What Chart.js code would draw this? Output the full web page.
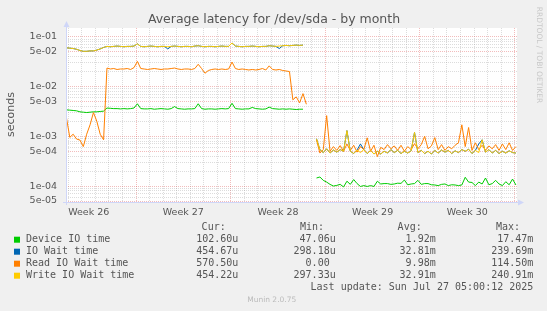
<!DOCTYPE html>
<html>
<head>
<meta charset="utf-8">
<script src="https://cdn.jsdelivr.net/npm/chart.js@4.4.0/dist/chart.umd.min.js"></script>
<style>
html, body { margin: 0; padding: 0; background: #f0f0f0; }
canvas { display: block; }
</style>
</head>
<body>
<canvas id="latency" width="547" height="311"></canvas>
<script>
// time axis in days, 0 = start of week 27
var startDay = -5.15;
var stepDay = 0.25;
var weekCenters = [-3.5, 3.5, 10.5, 17.5, 24.5];
var weekLabels = ['Week 26', 'Week 27', 'Week 28', 'Week 29', 'Week 30'];

var yLabelValues = [1e-1, 5e-2, 1e-2, 5e-3, 1e-3, 5e-4, 1e-4, 5e-5];
var yLabelTexts = ['1e-01', '5e-02', '1e-02', '5e-03', '1e-03', '5e-04', '1e-04', '5e-05'];

var deviceIO = [
    3.4e-3, 3.35e-3, 3.3e-3, 3.25e-3, 3.1e-3, 3.05e-3, 3.0e-3, 3.05e-3, 3.1e-3, 3.1e-3, 3.15e-3, 3.2e-3,
    3.7e-3, 3.65e-3, 3.6e-3, 3.6e-3, 3.55e-3, 3.6e-3, 3.55e-3, 3.6e-3, 3.7e-3, 4.5e-3, 3.6e-3, 3.55e-3,
    3.55e-3, 3.6e-3, 3.5e-3, 3.55e-3, 3.6e-3, 3.55e-3, 3.5e-3, 3.6e-3, 3.95e-3, 3.6e-3, 3.55e-3, 3.5e-3,
    3.55e-3, 3.55e-3, 3.6e-3, 4.5e-3, 3.6e-3, 3.5e-3, 3.55e-3, 3.55e-3, 3.5e-3, 3.55e-3, 3.6e-3, 3.55e-3,
    3.6e-3, 4.6e-3, 3.6e-3, 3.55e-3, 3.5e-3, 3.55e-3, 3.55e-3, 3.8e-3, 3.6e-3, 3.55e-3, 3.5e-3, 3.55e-3,
    3.85e-3, 3.6e-3, 3.55e-3, 3.5e-3, 3.55e-3, 3.5e-3, 3.55e-3, 3.5e-3, 3.45e-3, 3.5e-3, 3.5e-3,
    null, null, null,
    1.45e-4, 1.52e-4, 1.3e-4, 1.2e-4, 1.08e-4, 1.0e-4, 1.03e-4, 1.08e-4, 9.6e-5, 1.25e-4,
    1.08e-4, 1.35e-4, 1.12e-4, 9.8e-5, 1.02e-4, 9.8e-5, 1.02e-4, 9.8e-5, 1.25e-4, 1.1e-4,
    1.12e-4, 1.12e-4, 1.08e-4, 1.1e-4, 1.14e-4, 1.13e-4, 1.32e-4, 1.06e-4, 1.1e-4, 1.12e-4,
    1.3e-4, 1.08e-4, 1.12e-4, 1.12e-4, 1.06e-4, 1.05e-4, 1.02e-4, 1.08e-4, 1.1e-4, 1.02e-4,
    1.06e-4, 1.05e-4, 1.02e-4, 1.05e-4, 1.5e-4, 1.2e-4, 1.18e-4, 1.02e-4, 1.2e-4, 1.1e-4,
    1.45e-4, 1.06e-4, 1.12e-4, 1.3e-4, 1.1e-4, 1.02e-4, 1.22e-4, 1.06e-4, 1.38e-4, 1.05e-4
];

var ioWait = [
    0.060, 0.059, 0.058, 0.056, 0.053, 0.051, 0.051, 0.052, 0.052, 0.054, 0.057, 0.061,
    0.064, 0.063, 0.064, 0.065, 0.064, 0.063, 0.064, 0.064, 0.065, 0.072, 0.064, 0.063,
    0.064, 0.065, 0.064, 0.063, 0.064, 0.064, 0.057, 0.064, 0.065, 0.064, 0.063, 0.064,
    0.064, 0.063, 0.065, 0.066, 0.064, 0.063, 0.064, 0.064, 0.063, 0.064, 0.065, 0.064,
    0.064, 0.075, 0.065, 0.064, 0.063, 0.064, 0.064, 0.065, 0.064, 0.063, 0.064, 0.064,
    0.066, 0.065, 0.064, 0.058, 0.066, 0.067, 0.066, 0.067, 0.068, 0.067, 0.068,
    null, null, null,
    8.9e-4, 5.4e-4, 4.7e-4, 5.6e-4, 4.6e-4, 5.3e-4, 4.8e-4, 5.4e-4, 5.0e-4, 1.3e-3,
    5.0e-4, 4.5e-4, 5.3e-4, 7.0e-4, 5.4e-4, 4.5e-4, 5.2e-4, 4.4e-4, 5.0e-4, 4.4e-4,
    5.0e-4, 4.6e-4, 5.4e-4, 4.7e-4, 5.2e-4, 4.5e-4, 5.0e-4, 4.6e-4, 5.1e-4, 1.2e-3,
    4.7e-4, 5.2e-4, 4.5e-4, 5.0e-4, 4.4e-4, 5.2e-4, 4.6e-4, 5.3e-4, 4.8e-4, 5.2e-4,
    4.5e-4, 5.1e-4, 4.7e-4, 5.4e-4, 5.0e-4, 5.5e-4, 4.5e-4, 5.2e-4, 7.0e-4, 8.5e-4,
    4.8e-4, 5.4e-4, 4.6e-4, 5.2e-4, 4.5e-4, 5.0e-4, 4.6e-4, 5.1e-4, 4.7e-4, 4.6e-4
];

var readIOWait = [
    2.4e-3, 9.5e-4, 1.1e-3, 8.8e-4, 8.4e-4, 6.2e-4, 1.1e-3, 1.7e-3, 3.0e-3, 2.0e-3, 1.1e-3, 8.5e-4,
    2.35e-2, 2.25e-2, 2.3e-2, 2.2e-2, 2.25e-2, 2.25e-2, 2.3e-2, 2.2e-2, 2.4e-2, 3.2e-2, 2.3e-2, 2.25e-2,
    2.2e-2, 2.25e-2, 2.3e-2, 2.25e-2, 2.2e-2, 2.25e-2, 2.25e-2, 2.3e-2, 2.35e-2, 2.25e-2, 2.2e-2, 2.25e-2,
    2.25e-2, 2.2e-2, 2.3e-2, 2.8e-2, 2.3e-2, 1.85e-2, 2.1e-2, 2.2e-2, 2.25e-2, 2.2e-2, 2.25e-2, 2.2e-2,
    2.25e-2, 3.1e-2, 2.3e-2, 2.2e-2, 2.25e-2, 2.2e-2, 2.15e-2, 2.2e-2, 2.15e-2, 2.2e-2, 2.3e-2, 2.15e-2,
    2.6e-2, 2.2e-2, 2.15e-2, 2.2e-2, 2.1e-2, 2.05e-2, 2.0e-2, 5.4e-3, 6.2e-3, 4.7e-3, 7.2e-3, 4.4e-3,
    null, null,
    8.5e-4, 4.6e-4, 5.4e-4, 2.6e-3, 5.0e-4, 6.2e-4, 5.2e-4, 6.5e-4, 5.0e-4, 7.0e-4,
    5.2e-4, 6.6e-4, 4.8e-4, 6.2e-4, 5.4e-4, 9.3e-4, 5.0e-4, 6.6e-4, 3.9e-4, 6.0e-4,
    5.4e-4, 6.8e-4, 5.6e-4, 6.4e-4, 5.2e-4, 6.6e-4, 5.0e-4, 6.2e-4, 5.4e-4, 7.1e-4,
    5.6e-4, 6.8e-4, 1.0e-3, 5.6e-4, 6.4e-4, 9.4e-4, 5.4e-4, 6.8e-4, 5.2e-4, 6.2e-4,
    5.6e-4, 6.6e-4, 7.4e-4, 1.7e-3, 6.2e-4, 1.5e-3, 5.2e-4, 7.4e-4, 5.4e-4, 6.6e-4,
    5.2e-4, 6.4e-4, 5.6e-4, 6.8e-4, 5.2e-4, 7.0e-4, 5.4e-4, 7.4e-4, 5.2e-4, 6.2e-4
];

var writeIOWait = [
    0.060, 0.059, 0.058, 0.056, 0.053, 0.051, 0.051, 0.052, 0.052, 0.054, 0.057, 0.061,
    0.064, 0.063, 0.064, 0.065, 0.064, 0.063, 0.064, 0.064, 0.065, 0.072, 0.064, 0.063,
    0.064, 0.065, 0.064, 0.063, 0.064, 0.064, 0.063, 0.064, 0.065, 0.064, 0.063, 0.064,
    0.064, 0.063, 0.065, 0.066, 0.064, 0.063, 0.064, 0.064, 0.063, 0.064, 0.065, 0.064,
    0.064, 0.075, 0.065, 0.064, 0.063, 0.064, 0.064, 0.065, 0.064, 0.063, 0.064, 0.064,
    0.066, 0.065, 0.064, 0.065, 0.066, 0.067, 0.066, 0.067, 0.068, 0.067, 0.068,
    null, null, null,
    8.9e-4, 5.4e-4, 4.7e-4, 5.6e-4, 4.6e-4, 5.3e-4, 4.8e-4, 5.4e-4, 5.0e-4, 1.3e-3,
    5.0e-4, 4.5e-4, 5.3e-4, 4.7e-4, 5.4e-4, 4.5e-4, 5.2e-4, 4.4e-4, 5.0e-4, 4.4e-4,
    5.0e-4, 4.6e-4, 5.4e-4, 4.7e-4, 5.2e-4, 4.5e-4, 5.0e-4, 4.6e-4, 5.1e-4, 1.2e-3,
    4.7e-4, 5.2e-4, 4.5e-4, 5.0e-4, 4.4e-4, 5.2e-4, 4.6e-4, 5.3e-4, 4.8e-4, 5.2e-4,
    4.5e-4, 5.1e-4, 4.7e-4, 5.4e-4, 5.0e-4, 5.5e-4, 4.5e-4, 5.2e-4, 4.7e-4, 8.5e-4,
    4.8e-4, 5.4e-4, 4.6e-4, 5.2e-4, 4.5e-4, 5.0e-4, 4.6e-4, 5.1e-4, 4.7e-4, 4.6e-4
];

var seriesNames = ['Device IO time', 'IO Wait time', 'Read IO Wait time', 'Write IO Wait time'];
var seriesColors = ['#00cc00', '#0066b3', '#ff8000', '#ffcc00'];
var curValues = ['102.60u', '454.67u', '570.50u', '454.22u'];
var minValues = ['47.06u', '298.18u', '0.00 ', '297.33u'];
var avgValues = ['1.92m', '32.81m', '9.98m', '32.91m'];
var maxValues = ['17.47m', '239.69m', '114.50m', '240.91m'];

var gridGray = 'rgba(140,140,140,0.3)';
var gridRed = 'rgba(222,79,79,0.38)';
var axisColor = '#cfd6f8';
var textColor = '#555555';

function toPoints(values) {
    var pts = [];
    for (var i = 0; i < values.length; i++) {
        pts.push({ x: startDay + i * stepDay, y: values[i] });
    }
    return pts;
}

function isWeekCenter(v) {
    for (var i = 0; i < weekCenters.length; i++) {
        if (Math.abs(weekCenters[i] - v) < 1e-6) return i;
    }
    return -1;
}

var muninPlugin = {
    id: 'munin',
    beforeDraw: function (chart) {
        var ctx = chart.ctx, a = chart.chartArea;
        ctx.save();
        ctx.fillStyle = '#f0f0f0';
        ctx.fillRect(0, 0, chart.width, chart.height);
        ctx.fillStyle = '#ffffff';
        ctx.fillRect(a.left, a.top, a.right - a.left, a.bottom - a.top);
        ctx.restore();
    },
    afterDraw: function (chart) {
        var ctx = chart.ctx, a = chart.chartArea;
        ctx.save();

        // axes with arrows
        ctx.strokeStyle = axisColor;
        ctx.fillStyle = axisColor;
        ctx.lineWidth = 1;
        ctx.beginPath();
        ctx.moveTo(a.left + 0.5, a.bottom + 2);
        ctx.lineTo(a.left + 0.5, a.top - 3);
        ctx.moveTo(a.left - 3, a.bottom - 0.5);
        ctx.lineTo(a.right + 2, a.bottom - 0.5);
        ctx.stroke();
        ctx.beginPath();
        ctx.moveTo(a.left + 0.5, a.top - 7);
        ctx.lineTo(a.left - 2.5, a.top - 1);
        ctx.lineTo(a.left + 3.5, a.top - 1);
        ctx.closePath();
        ctx.fill();
        ctx.beginPath();
        ctx.moveTo(a.right + 7, a.bottom - 0.5);
        ctx.lineTo(a.right + 1, a.bottom - 3.5);
        ctx.lineTo(a.right + 1, a.bottom + 2.5);
        ctx.closePath();
        ctx.fill();

        ctx.textBaseline = 'middle';

        // title
        ctx.fillStyle = textColor;
        ctx.font = '12.5px "DejaVu Sans"';
        ctx.textAlign = 'center';
        ctx.fillText('Average latency for /dev/sda - by month', 274, 20);

        // vertical axis title
        ctx.save();
        ctx.translate(11.5, 114.5);
        ctx.rotate(-Math.PI / 2);
        ctx.font = '11px "DejaVu Sans"';
        ctx.fillText('seconds', 0, 0);
        ctx.restore();

        // rrdtool watermark
        ctx.save();
        ctx.translate(538.5, 55);
        ctx.rotate(Math.PI / 2);
        ctx.fillStyle = '#c8c8c8';
        ctx.font = '7.5px "DejaVu Sans"';
        ctx.fillText('RRDTOOL / TOBI OETIKER', 0, 0);
        ctx.restore();

        // legend table
        ctx.font = '10px "DejaVu Sans Mono"';
        ctx.fillStyle = textColor;
        ctx.textAlign = 'right';
        ctx.fillText('Cur:', 225.7, 227.7);
        ctx.fillText('Min:', 324, 227.7);
        ctx.fillText('Avg:', 421.7, 227.7);
        ctx.fillText('Max:', 520, 227.7);
        for (var i = 0; i < seriesNames.length; i++) {
            var y = 239.7 + i * 12;
            ctx.fillStyle = seriesColors[i];
            ctx.fillRect(14, y - 3, 6, 6);
            ctx.fillStyle = textColor;
            ctx.textAlign = 'left';
            ctx.fillText(seriesNames[i], 26, y);
            ctx.textAlign = 'right';
            ctx.fillText(curValues[i], 238.3, y);
            ctx.fillText(minValues[i], 335.7, y);
            ctx.fillText(avgValues[i], 435.7, y);
            ctx.fillText(maxValues[i], 533.3, y);
        }
        ctx.fillText('Last update: Sun Jul 27 05:00:12 2025', 533.3, 287.7);

        ctx.textAlign = 'center';
        ctx.fillStyle = '#bbbbbb';
        ctx.font = '7.5px "DejaVu Sans"';
        ctx.fillText('Munin 2.0.75', 271.7, 299.7);
        ctx.restore();
    }
};

function makeDataset(idx, values, order) {
    return {
        label: seriesNames[idx],
        data: toPoints(values),
        borderColor: seriesColors[idx],
        backgroundColor: seriesColors[idx],
        borderWidth: 1,
        pointRadius: 0,
        fill: false,
        tension: 0,
        spanGaps: false,
        order: order
    };
}

new Chart(document.getElementById('latency'), {
    type: 'line',
    data: {
        datasets: [
            makeDataset(0, deviceIO, 4),
            makeDataset(1, ioWait, 3),
            makeDataset(2, readIOWait, 2),
            makeDataset(3, writeIOWait, 1)
        ]
    },
    options: {
        responsive: false,
        animation: false,
        layout: { padding: { top: 28, right: 30, left: 0, bottom: 0 } },
        plugins: {
            legend: { display: false },
            tooltip: { enabled: false },
            title: { display: false }
        },
        scales: {
            x: {
                type: 'linear',
                min: -5.18,
                max: 28.18,
                afterBuildTicks: function (scale) {
                    var t = [];
                    for (var d = -5; d <= 28; d++) t.push({ value: d });
                    for (var k = 0; k < weekCenters.length; k++) t.push({ value: weekCenters[k] });
                    t.sort(function (p, q) { return p.value - q.value; });
                    scale.ticks = t;
                },
                afterFit: function (scale) { scale.height = 108; },
                ticks: {
                    autoSkip: false,
                    maxRotation: 0,
                    padding: 4,
                    color: textColor,
                    font: { family: 'DejaVu Sans', size: 9.5 },
                    callback: function (value) {
                        var k = isWeekCenter(value);
                        return k >= 0 ? weekLabels[k] : '';
                    }
                },
                grid: {
                    drawTicks: false,
                    lineWidth: 1,
                    color: function (c) {
                        if (!c.tick) return gridGray;
                        var v = c.tick.value;
                        if (isWeekCenter(v) >= 0) return 'rgba(0,0,0,0)';
                        return (Math.round(v) % 7 === 0) ? gridRed : gridGray;
                    }
                },
                border: { display: false, dash: [1, 1] }
            },
            y: {
                type: 'logarithmic',
                min: 4.56e-5,
                max: 0.15,
                afterBuildTicks: function (scale) {
                    var t = [];
                    for (var e = -5; e <= -1; e++) {
                        for (var m = 1; m <= 9; m++) {
                            var v = m * Math.pow(10, e);
                            if (v < 4.56e-5 || v > 0.15) continue;
                            t.push({ value: v, major: (m === 1 || m === 5) });
                        }
                    }
                    scale.ticks = t;
                },
                afterFit: function (scale) { scale.width = 66; },
                ticks: {
                    autoSkip: false,
                    padding: 9,
                    color: textColor,
                    font: { family: 'DejaVu Sans', size: 9.5 },
                    callback: function (value) {
                        for (var i = 0; i < yLabelValues.length; i++) {
                            if (Math.abs(yLabelValues[i] - value) / yLabelValues[i] < 1e-6) return yLabelTexts[i];
                        }
                        return '';
                    }
                },
                grid: {
                    drawTicks: false,
                    lineWidth: 1,
                    color: function (c) {
                        return (c.tick && c.tick.major) ? gridRed : gridGray;
                    }
                },
                border: { display: false, dash: [1, 1] }
            }
        }
    },
    plugins: [muninPlugin]
});
</script>
</body>
</html>
